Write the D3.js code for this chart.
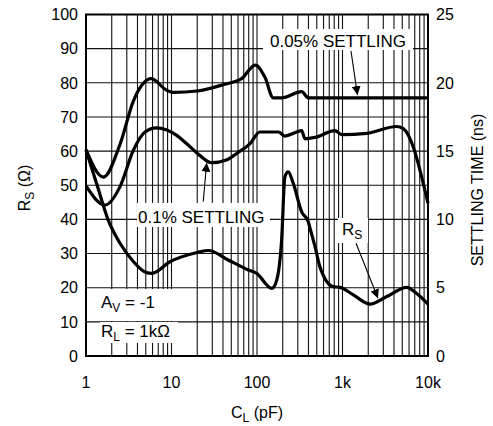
<!DOCTYPE html>
<html>
<head>
<meta charset="utf-8">
<script src="https://cdn.jsdelivr.net/npm/d3@7"></script>
<style>
  body { margin: 0; background: #fff; }
  svg text { font-family: "Liberation Sans", Arial, sans-serif; fill: #000; }
</style>
</head>
<body>
<svg id="chart" width="493" height="426"></svg>
<script>
// load capacitance (pF) and the three curves
var cl05 = [1, 1.6, 2.5, 3.6, 5.8, 8.8, 10.5, 20, 42, 66, 95, 124, 155, 194, 333, 398, 1000, 10000];
var ts05 = [15.1, 13.1, 15.5, 18.7, 20.3, 19.45, 19.3, 19.4, 19.9, 20.3, 21.3, 20.4, 18.9, 18.9, 19.35, 18.9, 18.9, 18.9];

var cl01 = [1, 1.67, 2.5, 3.6, 4.9, 6.7, 11.5, 15, 20, 29.5, 44, 60, 83, 108, 178, 212, 291, 333, 364, 477, 817, 979, 1920, 4300, 5140, 6730, 8440, 10000];
var ts01 = [12.45, 11.05, 12.4, 15.1, 16.4, 16.7, 16.15, 15.55, 14.85, 14.15, 14.35, 14.9, 15.55, 16.4, 16.4, 16.1, 16.4, 16.5, 15.9, 16.0, 16.5, 16.2, 16.3, 16.8, 16.65, 15.3, 13.1, 11.2];

var clRs = [1, 1.33, 1.82, 2.5, 3.6, 5.1, 5.9, 9.6, 20, 27, 46, 79, 99, 149, 170, 194, 212, 232, 266, 333, 398, 417, 477, 545, 780, 935, 1340, 2100, 3290, 5640, 7380, 10000];
var rs   = [60.3, 50.5, 39.8, 33.0, 27.6, 24.4, 24.2, 27.6, 30.3, 30.9, 28.1, 25.2, 24.2, 19.8, 22.2, 33.9, 52.5, 53.9, 50.5, 42.2, 39.3, 37.4, 32.0, 26.1, 20.3, 20.1, 17.9, 15.2, 17.4, 20.1, 18.3, 15.2];

var xTicks = [1, 10, 100, 1000, 10000];
var xTickLabels = ["1", "10", "100", "1k", "10k"];
var rsTicks = d3.range(0, 101, 10);
var tsTicks = d3.range(0, 26, 5);

var svg = d3.select("#chart");
var pL = 86, pR = 428, pT = 14.5, pB = 356;

var x = d3.scaleLog().domain([1, 10000]).range([pL, pR]);
var yL = d3.scaleLinear().domain([0, 100]).range([pB, pT]);
var yR = d3.scaleLinear().domain([0, 25]).range([pB, pT]);

// grid
var minor = [];
[1, 10, 100, 1000].forEach(function(d) {
  for (var k = 1; k < 10; k++) minor.push(d * k);
});
var grid = svg.append("g").attr("stroke", "#111").attr("stroke-width", 1.1);
grid.selectAll("line.v").data(minor).enter().append("line")
  .attr("x1", function(d) { return x(d); }).attr("x2", function(d) { return x(d); })
  .attr("y1", pT).attr("y2", pB);
grid.selectAll("line.h").data(rsTicks).enter().append("line")
  .attr("x1", pL).attr("x2", pR)
  .attr("y1", function(d) { return yL(d); }).attr("y2", function(d) { return yL(d); });

// white boxes behind the labels
function box(x0, y0, x1, y1) {
  svg.append("rect").attr("x", x0).attr("y", y0)
    .attr("width", x1 - x0).attr("height", y1 - y0).attr("fill", "#fff");
}
box(263, 29, 413, 50);
box(137, 203, 270, 227);
box(338, 218, 368, 243);
box(87, 289, 178, 321);
box(100, 322, 178, 343);

// curves
var line = d3.line()
  .x(function(d) { return x(d[0]); })
  .y(function(d) { return d[1]; })
  .curve(d3.curveMonotoneX);

var series = [
  d3.zip(cl05, ts05.map(function(v) { return yR(v); })),
  d3.zip(cl01, ts01.map(function(v) { return yR(v); })),
  d3.zip(clRs, rs.map(function(v) { return yL(v); }))
];
svg.selectAll("path.curve").data(series).enter().append("path")
  .attr("class", "curve")
  .attr("d", line)
  .attr("fill", "none")
  .attr("stroke", "#000")
  .attr("stroke-width", 3.2)
  .attr("stroke-linejoin", "round");

// arrows
svg.append("defs").append("marker")
  .attr("id", "head").attr("viewBox", "0 0 10 10")
  .attr("refX", 10).attr("refY", 5)
  .attr("markerWidth", 9).attr("markerHeight", 9)
  .attr("markerUnits", "userSpaceOnUse")
  .attr("orient", "auto")
  .append("path").attr("d", "M0,0L10,5L0,10z").attr("fill", "#000");

var arrows = [
  [x(1257), yL(89.3), x(1497), yR(19.1)],
  [x(23.5), yL(45.2), x(25.8), yL(56.6)],
  [x(1439), yL(33), x(2600), yL(16.9)]
];
svg.selectAll("line.arrow").data(arrows).enter().append("line")
  .attr("x1", function(d) { return d[0]; }).attr("y1", function(d) { return d[1]; })
  .attr("x2", function(d) { return d[2]; }).attr("y2", function(d) { return d[3]; })
  .attr("stroke", "#000").attr("stroke-width", 1.1)
  .attr("marker-end", "url(#head)");

// frame
svg.append("rect").attr("x", pL).attr("y", pT)
  .attr("width", pR - pL).attr("height", pB - pT)
  .attr("fill", "none").attr("stroke", "#000").attr("stroke-width", 2);

// axes labels
var fs = 16;
svg.append("g").selectAll("text").data(rsTicks).enter().append("text")
  .attr("x", 78).attr("y", function(d) { return yL(d); })
  .attr("dy", "0.36em").attr("text-anchor", "end")
  .style("font-size", fs + "px").text(function(d) { return d; });
svg.append("g").selectAll("text").data(tsTicks).enter().append("text")
  .attr("x", 436).attr("y", function(d) { return yR(d); })
  .attr("dy", "0.36em")
  .style("font-size", fs + "px").text(function(d) { return d; });
svg.append("g").selectAll("text").data(xTicks).enter().append("text")
  .attr("x", function(d) { return x(d); }).attr("y", 387.5)
  .attr("text-anchor", "middle")
  .style("font-size", fs + "px").text(function(d, i) { return xTickLabels[i]; });

function sub(t, main, s) {
  t.append("tspan").text(main);
  t.append("tspan").attr("dy", 4).style("font-size", "12px").text(s);
}

var ct = svg.append("text").attr("x", x(100)).attr("y", 418)
  .attr("text-anchor", "middle").style("font-size", fs + "px");
sub(ct, "C", "L");
ct.append("tspan").attr("dy", -4).text(" (pF)");

var rt = svg.append("text").attr("transform", "translate(30,188) rotate(-90)")
  .attr("text-anchor", "middle").style("font-size", fs + "px");
sub(rt, "R", "S");
rt.append("tspan").attr("dy", -4).text(" (\u03A9)");

svg.append("text").attr("transform", "translate(483,190) rotate(-90)")
  .attr("text-anchor", "middle").style("font-size", fs + "px")
  .text("SETTLING TIME (ns)");

// annotations
var afs = 17;
svg.append("text").attr("x", 338).attr("y", 46.5).attr("text-anchor", "middle")
  .style("font-size", afs + "px").text("0.05% SETTLING");
svg.append("text").attr("x", 138).attr("y", 222.5)
  .style("font-size", afs + "px").text("0.1% SETTLING");
var rsl = svg.append("text").attr("x", 342).attr("y", 235).style("font-size", afs + "px");
sub(rsl, "R", "S");
var av = svg.append("text").attr("x", 101).attr("y", 307.5).style("font-size", afs + "px");
sub(av, "A", "V");
av.append("tspan").attr("dy", -4).text(" = -1");
var rl = svg.append("text").attr("x", 101).attr("y", 336.5).style("font-size", afs + "px");
sub(rl, "R", "L");
rl.append("tspan").attr("dy", -4).text(" = 1k\u03A9");
</script>
</body>
</html>
